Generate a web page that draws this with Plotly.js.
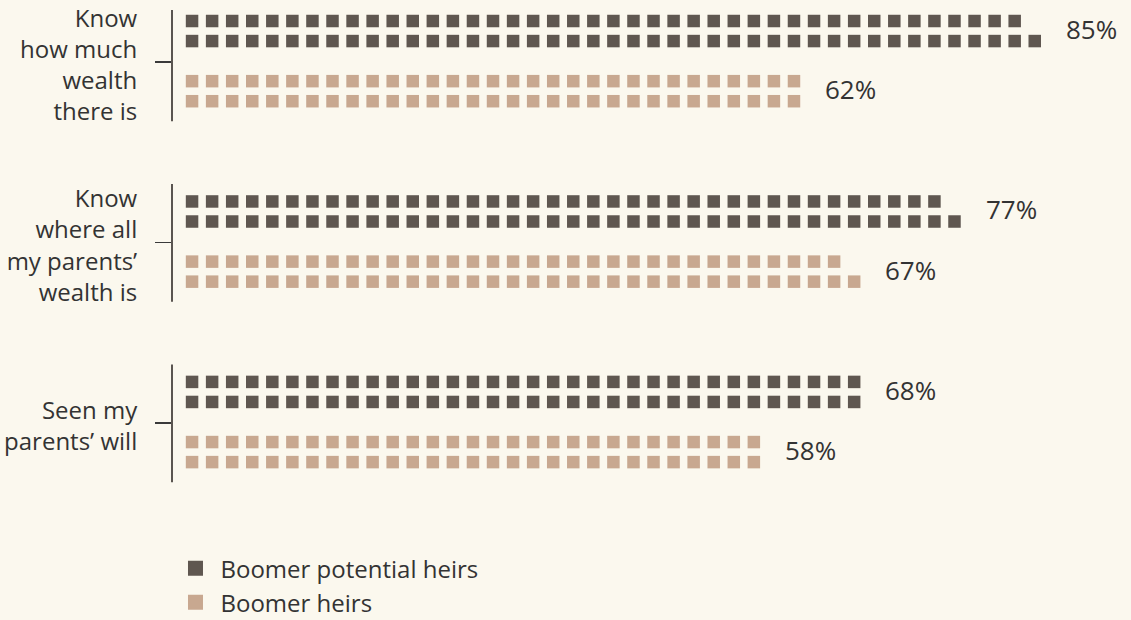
<!DOCTYPE html>
<html>
<head>
<meta charset="utf-8">
<script src="https://cdn.plot.ly/plotly-3.0.1.min.js"></script>
<style>
  html, body { margin: 0; padding: 0; background: #fbf8ee; }
  #chart { width: 1131px; height: 620px; }
</style>
</head>
<body>
<div id="chart"></div>
<script>
// ---- Data ----
const categories = [
  "Know<br>how much<br>wealth<br>there is",
  "Know<br>where all<br>my parents’<br>wealth is",
  "Seen my<br>parents’ will"
];
const potentialHeirs = [85, 77, 68];   // Boomer potential heirs (%)
const heirs = [62, 67, 58];            // Boomer heirs (%)
const seriesNames = ["Boomer potential heirs", "Boomer heirs"];
const seriesColors = ["#5f5750", "#c8a890"];

// ---- Layout helpers ----
const groupStep = 9;          // y units between category groups
const textColor = "#333333";
const fontFamily = "'Open Sans', 'Noto Sans', sans-serif";

function squaresFor(values, rowOffsets) {
  // each square = 1%, split over two rows (top: floor, bottom: ceil)
  const xs = [], ys = [];
  values.forEach((v, i) => {
    const c = i * groupStep;
    const counts = [Math.floor(v / 2), Math.ceil(v / 2)];
    counts.forEach((n, r) => {
      for (let k = 0; k < n; k++) { xs.push(k); ys.push(c + rowOffsets[r]); }
    });
  });
  return { xs, ys };
}

const series = [potentialHeirs, heirs];
const rowOffsets = [[-2, -1], [1, 2]];

const traces = [];
series.forEach((vals, s) => {
  const pts = squaresFor(vals, rowOffsets[s]);
  traces.push({
    type: "scatter", mode: "markers",
    x: pts.xs, y: pts.ys,
    marker: { symbol: "square", size: 12.5, color: seriesColors[s], line: { width: 0 } },
    hoverinfo: "skip", showlegend: false, cliponaxis: false
  });
});
// legend entries
series.forEach((vals, s) => {
  traces.push({
    type: "scatter", mode: "markers",
    x: [null], y: [null],
    name: seriesNames[s],
    marker: { symbol: "square", size: 15, color: seriesColors[s] },
    showlegend: true
  });
});

// percentage labels
const annotations = [];
series.forEach((vals, s) => {
  vals.forEach((v, i) => {
    const c = i * groupStep;
    annotations.push({
      x: Math.ceil(v / 2) + 0.45, y: c + (rowOffsets[s][0] + rowOffsets[s][1]) / 2 - 0.1,
      xref: "x", yref: "y", xanchor: "left", yanchor: "middle",
      text: v + "%", showarrow: false,
      font: { family: fontFamily, size: 26, color: textColor }
    });
  });
});

// per-group axis line segments
const shapes = categories.map((_, i) => ({
  type: "line", xref: "paper", yref: "y",
  x0: 0, x1: 0, y0: i * groupStep - 2.87, y1: i * groupStep + 3.0,
  line: { color: "#5a5550", width: 2 }
}));

const layout = {
  width: 1131, height: 620,
  paper_bgcolor: "#fbf8ee", plot_bgcolor: "#fbf8ee",
  margin: { l: 172, r: 16, t: 10, b: 120, autoexpand: false },
  font: { family: fontFamily, size: 24, color: textColor },
  showlegend: true,
  xaxis: { range: [-1, 46], visible: false, fixedrange: true },
  yaxis: {
    range: [21.89, -2.549],
    tickvals: categories.map((_, i) => i * groupStep + 0.05),
    ticktext: categories,
    ticks: "outside", ticklen: 16, tickwidth: 1.5, tickcolor: "#3a3a3a",
    showline: false, showgrid: false, zeroline: false,
    ticklabelstandoff: 13,
    ticklabelshift: -3,
    ticklabeloverflow: "allow",
    tickfont: { family: fontFamily, size: 24, color: textColor },
    automargin: false, fixedrange: true
  },
  legend: {
    x: -0.0016, xanchor: "left", y: -0.094, yanchor: "top",
    orientation: "v", itemwidth: 40,
    bgcolor: "rgba(0,0,0,0)", borderwidth: 0,
    font: { family: fontFamily, size: 24, color: textColor }
  },
  annotations: annotations,
  shapes: shapes
};

Plotly.newPlot("chart", traces, layout, { displayModeBar: false, staticPlot: true });
</script>
</body>
</html>
